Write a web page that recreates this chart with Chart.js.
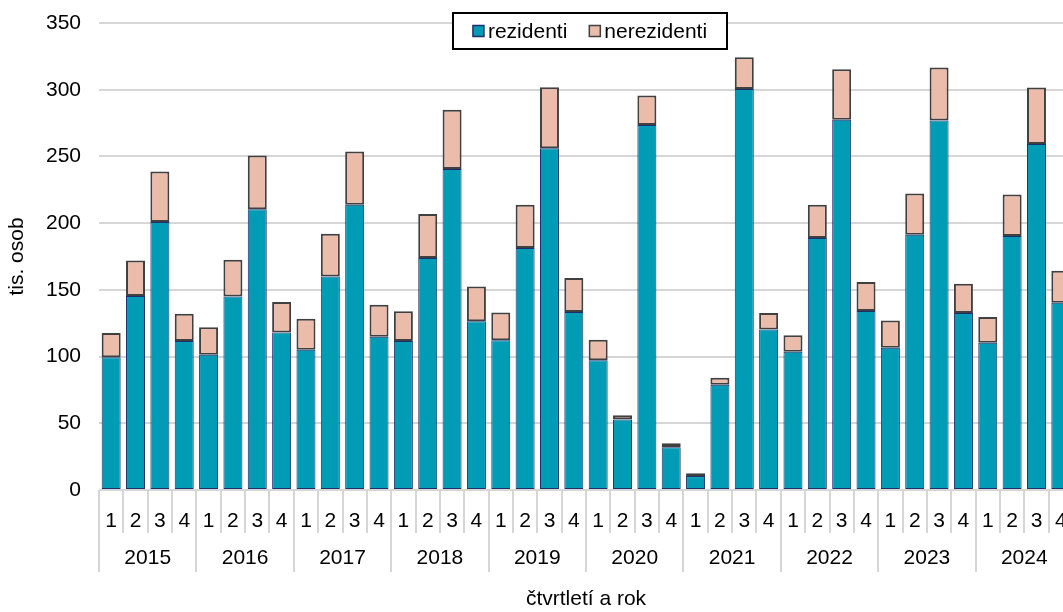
<!DOCTYPE html>
<html>
<head>
<meta charset="utf-8">
<script src="https://cdn.jsdelivr.net/npm/chart.js@4"></script>
<style>
  html, body { margin: 0; padding: 0; background: #fff; overflow: hidden; }
  #wrap { width: 1063px; height: 612px; overflow: hidden; }
  canvas { display: block; }
</style>
</head>
<body>
<div id="wrap"><canvas id="chart" width="1075" height="612"></canvas></div>
<script>
// Data (thousands of persons)
const years = ['2015', '2016', '2017', '2018', '2019', '2020', '2021', '2022', '2023', '2024'];
const quarters = ['1', '2', '3', '4'];
const categories = years.flatMap(y => quarters.map(q => q + '/' + y));

const rezidenti = [
  99.4, 145.4, 200.8, 111.7,
  101.4, 145.1, 210.5, 118.1,
  105.2, 160.1, 213.7, 114.9,
  111.7, 173.8, 240.5, 126.4,
  112.2, 181.3, 256.2, 133.4,
  97.2, 52.8, 273.6, 32.0,
  10.4, 78.8, 300.6, 120.2,
  103.7, 188.8, 277.4, 134.1,
  106.7, 191.3, 276.9, 132.7,
  110.4, 190.3, 259.4, 140.4
];
const nerezidenti = [
  18.3, 26.6, 37.9, 20.4,
  20.5, 27.5, 40.2, 22.8,
  23.2, 31.9, 40.0, 24.0,
  22.2, 33.0, 44.4, 26.2,
  20.9, 32.4, 45.6, 25.5,
  15.5, 3.2, 22.0, 3.0,
  2.2, 5.4, 23.7, 12.5,
  12.2, 24.9, 37.9, 21.8,
  20.4, 30.9, 39.7, 21.9,
  19.3, 31.2, 42.2, 23.9
];

const FONT = { family: '"Liberation Sans", Arial, sans-serif', size: 21 };
const GRID = '#d6d6d6';

// Boxed legend drawn inside the plot area
const boxLegend = {
  id: 'boxLegend',
  afterDraw(chart) {
    const ctx = chart.ctx;
    const sets = chart.data.datasets;
    ctx.save();
    ctx.font = FONT.size + 'px ' + FONT.family;
    const sq = 11, gap = 4, between = 22;
    const widths = sets.map(d => ctx.measureText(d.label).width);
    const content = widths.reduce((a, w) => a + sq + gap + w, 0) + between * (sets.length - 1);
    const bx = 453, by = 13, bw = 274, bh = 36;
    ctx.fillStyle = '#fff';
    ctx.fillRect(bx, by, bw, bh);
    ctx.lineWidth = 2;
    ctx.strokeStyle = '#000';
    ctx.strokeRect(bx, by, bw, bh);
    let x = bx + (bw - content) / 2;
    const cy = by + bh / 2;
    sets.forEach((d, i) => {
      ctx.fillStyle = d.backgroundColor;
      ctx.fillRect(x, cy - sq / 2, sq, sq);
      ctx.lineWidth = 1.5;
      ctx.strokeStyle = d.borderColor;
      ctx.strokeRect(x, cy - sq / 2, sq, sq);
      ctx.fillStyle = '#000';
      ctx.textBaseline = 'middle';
      ctx.textAlign = 'left';
      ctx.fillText(d.label, x + sq + gap, cy + 1);
      x += sq + gap + widths[i] + between;
    });
    ctx.restore();
  }
};

new Chart(document.getElementById('chart'), {
  type: 'bar',
  data: {
    labels: categories,
    datasets: [
      {
        label: 'rezidenti',
        data: rezidenti,
        backgroundColor: '#009bb4',
        borderColor: '#1f2f6b',
        borderWidth: 1,
        borderSkipped: false,
        categoryPercentage: 1,
        barPercentage: 0.78
      },
      {
        label: 'nerezidenti',
        data: nerezidenti,
        backgroundColor: '#ecbcaa',
        borderColor: '#404040',
        borderWidth: 2,
        borderSkipped: false,
        categoryPercentage: 1,
        barPercentage: 0.78
      }
    ]
  },
  options: {
    responsive: false,
    animation: false,
    layout: { padding: { top: 23, right: 2, left: 0, bottom: 0 } },
    plugins: {
      legend: { display: false },
      tooltip: { enabled: false }
    },
    scales: {
      // quarter row
      x: {
        stacked: true,
        position: 'bottom',
        offset: true,
        border: { display: false },
        grid: { offset: true, drawOnChartArea: false, drawTicks: true, tickLength: 43, color: GRID, lineWidth: 2 },
        ticks: {
          autoSkip: false, maxRotation: 0, padding: -24, color: '#000', font: FONT,
          callback: (v, i) => quarters[i % quarters.length]
        },
        afterFit: s => { s.height = 43; }
      },
      // year row
      x2: {
        type: 'category',
        labels: years,
        position: 'bottom',
        offset: true,
        border: { display: false },
        grid: { offset: true, drawOnChartArea: false, drawTicks: true, tickLength: 39, color: GRID, lineWidth: 2 },
        ticks: { autoSkip: false, maxRotation: 0, padding: -26, color: '#000', font: FONT },
        title: { display: true, text: 'čtvrtletí a rok', color: '#000', font: FONT, padding: { top: 0, bottom: 0 } },
        afterFit: s => { s.height = 79; }
      },
      y: {
        stacked: true,
        min: 0,
        max: 350,
        border: { display: false },
        grid: { color: GRID, lineWidth: 2, drawTicks: false },
        ticks: { stepSize: 50, padding: 18, color: '#000', font: FONT },
        title: { display: true, text: 'tis. osob', color: '#000', font: FONT, padding: { top: 5, bottom: 0 } },
        afterFit: s => { s.width = 99; s.paddingTop = 0; s.paddingBottom = 0; }
      }
    }
  },
  plugins: [boxLegend]
});
</script>
</body>
</html>
